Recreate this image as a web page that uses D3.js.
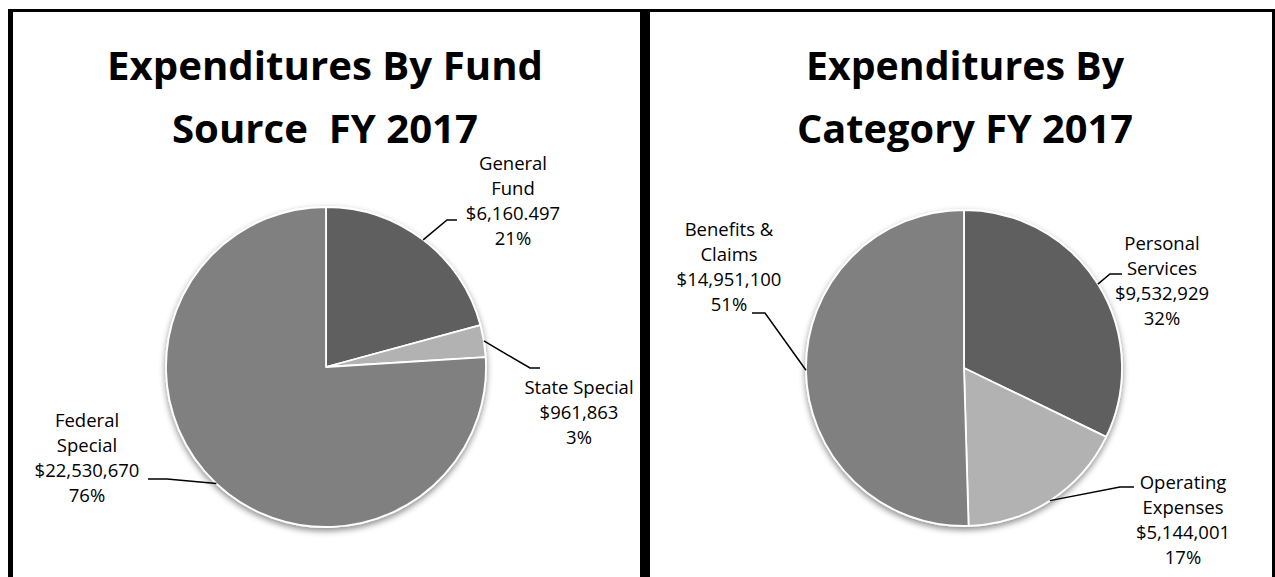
<!DOCTYPE html>
<html>
<head>
<meta charset="utf-8">
<script src="https://cdn.jsdelivr.net/npm/d3@7/dist/d3.min.js"></script>
<style>
  html, body { margin: 0; padding: 0; background: #fff; }
  svg { display: block; }
</style>
</head>
<body>
<svg id="chart" width="1275" height="577"></svg>
<script>
// ---------- DATA ----------
const fundCategories = ["General Fund", "State Special", "Federal Special"];
const fundValues = [6160497, 961863, 22530670];
const fundNameLines = [["General", "Fund"], ["State Special"], ["Federal", "Special"]];
const fundValueLabels = ["$6,160.497", "$961,863", "$22,530,670"];
const fundPercentLabels = ["21%", "3%", "76%"];

const catCategories = ["Personal Services", "Operating Expenses", "Benefits & Claims"];
const catValues = [9532929, 5144001, 14951100];
const catNameLines = [["Personal", "Services"], ["Operating", "Expenses"], ["Benefits &", "Claims"]];
const catValueLabels = ["$9,532,929", "$5,144,001", "$14,951,100"];
const catPercentLabels = ["32%", "17%", "51%"];

const sliceColors = ["#5f5f5f", "#b2b2b2", "#808080"];

// ---------- LAYOUT ----------
const svg = d3.select("#chart");
const defs = svg.append("defs");
const f = defs.append("filter").attr("id", "shadow")
  .attr("x", "-20%").attr("y", "-20%").attr("width", "140%").attr("height", "140%");
f.append("feDropShadow").attr("dx", 0).attr("dy", 3).attr("stdDeviation", 3)
  .attr("flood-color", "#000").attr("flood-opacity", 0.45);

// frame
svg.append("rect").attr("x", 8).attr("y", 9).attr("width", 1267).attr("height", 3).attr("fill", "#000");
svg.append("rect").attr("x", 8).attr("y", 9).attr("width", 5).attr("height", 568).attr("fill", "#000");
svg.append("rect").attr("x", 640).attr("y", 9).attr("width", 10).attr("height", 568).attr("fill", "#000");
svg.append("rect").attr("x", 1272).attr("y", 9).attr("width", 3).attr("height", 568).attr("fill", "#000");

const panels = [
  {
    titles: [{ t: "Expenditures By Fund", w: 436 }, { t: "Source\u00a0\u00a0FY 2017", w: 306 }],
    titleX: 325,
    cx: 326, cy: 367, r: 160,
    values: fundValues, names: fundNameLines, vals: fundValueLabels, pcts: fundPercentLabels,
    labels: [
      { x: 513, y: 170, elbow: [447, 220], end: [457, 220] },
      { x: 579, y: 394, elbow: [530, 368], end: [540, 368] },
      { x: 87, y: 427, elbow: [167, 479], end: [148, 479] }
    ]
  },
  {
    titles: [{ t: "Expenditures By", w: 318 }, { t: "Category FY 2017", w: 336 }],
    titleX: 965,
    cx: 964, cy: 368, r: 158,
    values: catValues, names: catNameLines, vals: catValueLabels, pcts: catPercentLabels,
    labels: [
      { x: 1162, y: 250, elbow: [1110, 274], end: [1122, 274] },
      { x: 1183, y: 489, elbow: [1120, 487], end: [1134, 487] },
      { x: 729, y: 236, elbow: [765, 313], end: [752, 313] }
    ]
  }
];

const pie = d3.pie().sort(null).value(d => d);

panels.forEach(p => {
  // titles
  p.titles.forEach((tl, i) => {
    svg.append("text")
      .attr("x", p.titleX).attr("y", 80 + i * 63)
      .attr("text-anchor", "middle")
      .attr("font-family", "'Open Sans', sans-serif")
      .attr("font-weight", 700)
      .attr("font-size", 39)
      .attr("textLength", tl.w)
      .attr("lengthAdjust", "spacingAndGlyphs")
      .attr("fill", "#000")
      .text(tl.t);
  });

  const arcs = pie(p.values);
  const arc = d3.arc().innerRadius(0).outerRadius(p.r);
  const g = svg.append("g").attr("transform", `translate(${p.cx},${p.cy})`);
  g.append("g").attr("filter", "url(#shadow)")
    .selectAll("path").data(arcs).join("path")
    .attr("d", arc)
    .attr("fill", (d, i) => sliceColors[i])
    .attr("stroke", "#fff")
    .attr("stroke-width", 1.8)
    .attr("stroke-linejoin", "round");

  // labels + leader lines
  arcs.forEach((a, i) => {
    const L = p.labels[i];
    const mid = (a.startAngle + a.endAngle) / 2;
    const ex = p.cx + p.r * Math.sin(mid);
    const ey = p.cy - p.r * Math.cos(mid);
    svg.append("path")
      .attr("d", `M${ex},${ey}L${L.elbow[0]},${L.elbow[1]}L${L.end[0]},${L.end[1]}`)
      .attr("fill", "none").attr("stroke", "#000").attr("stroke-width", 1.5);
    const lines = [...p.names[i], p.vals[i], p.pcts[i]];
    const t = svg.append("text")
      .attr("text-anchor", "middle")
      .attr("font-family", "'Open Sans', sans-serif")
      .attr("font-size", 18.5)
      .attr("fill", "#000");
    lines.forEach((s, k) => {
      t.append("tspan").attr("x", L.x).attr("y", L.y + k * 25).text(s);
    });
  });
});
</script>
</body>
</html>
